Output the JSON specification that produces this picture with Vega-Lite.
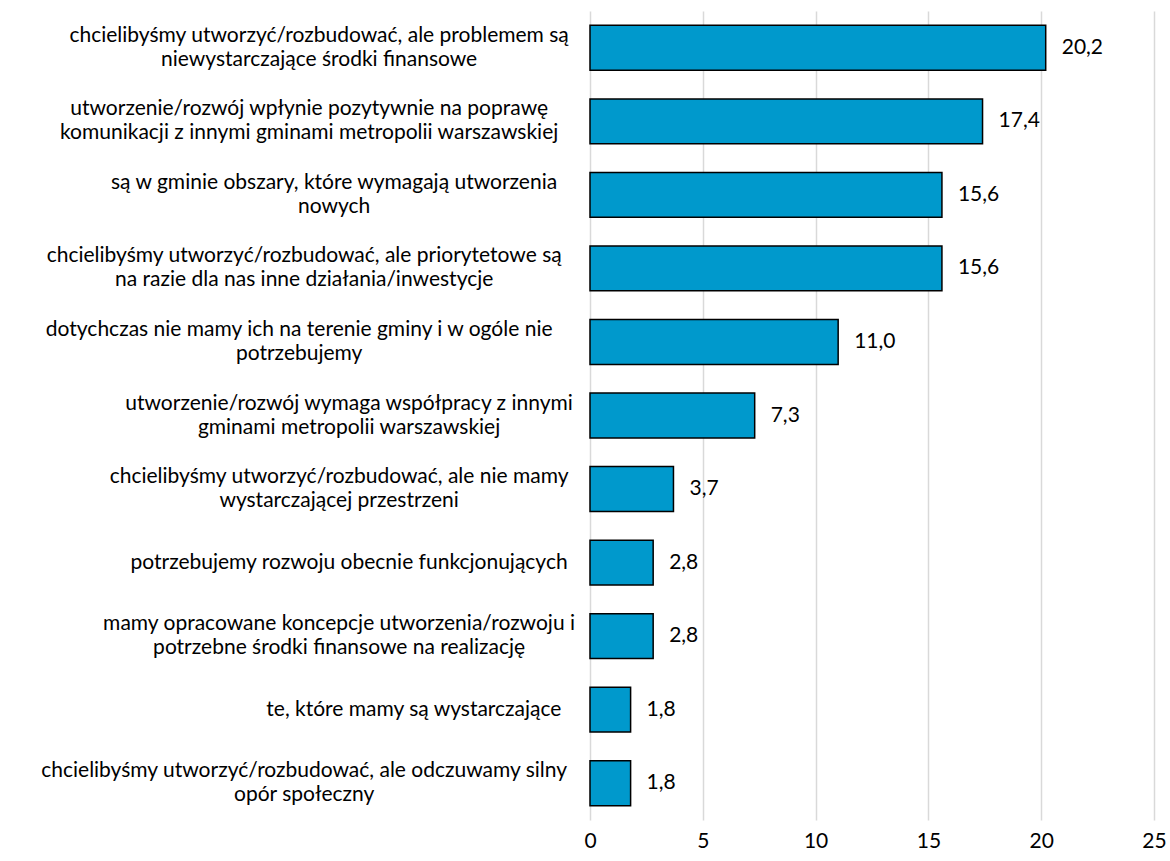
{
  "$schema": "https://vega.github.io/schema/vega-lite/v6.json",
  "autosize": "none",
  "width": 564,
  "height": 809,
  "padding": {"left": 590, "top": 11, "right": 16, "bottom": 41},
  "background": "white",
  "config": {
    "locale": {"number": {"decimal": ",", "thousands": " ", "grouping": [3], "currency": ["", " zł"]}},
    "view": {"stroke": null},
    "font": "Lato"
  },
  "data": {
    "values": [
      {"kategoria": "chcielibyśmy utworzyć/rozbudować, ale problemem są|niewystarczające środki finansowe", "procent": 20.2},
      {"kategoria": "utworzenie/rozwój wpłynie pozytywnie na poprawę|komunikacji z innymi gminami metropolii warszawskiej", "procent": 17.4},
      {"kategoria": "są w gminie obszary,  które wymagają utworzenia|nowych", "procent": 15.6},
      {"kategoria": "chcielibyśmy utworzyć/rozbudować, ale priorytetowe są|na razie dla nas inne działania/inwestycje", "procent": 15.6},
      {"kategoria": "dotychczas nie mamy ich na terenie gminy i w ogóle nie|potrzebujemy", "procent": 11.0},
      {"kategoria": "utworzenie/rozwój wymaga współpracy z innymi|gminami metropolii warszawskiej", "procent": 7.3},
      {"kategoria": "chcielibyśmy utworzyć/rozbudować, ale nie mamy|wystarczającej przestrzeni", "procent": 3.7},
      {"kategoria": "potrzebujemy rozwoju obecnie funkcjonujących", "procent": 2.8},
      {"kategoria": "mamy opracowane koncepcje utworzenia/rozwoju i|potrzebne środki finansowe na realizację", "procent": 2.8},
      {"kategoria": "te, które mamy są wystarczające", "procent": 1.8},
      {"kategoria": "chcielibyśmy utworzyć/rozbudować, ale odczuwamy silny|opór społeczny", "procent": 1.8}
    ]
  },
  "encoding": {
    "y": {
      "field": "kategoria",
      "type": "nominal",
      "sort": null,
      "scale": {"paddingInner": 0.39, "paddingOuter": 0.195},
      "axis": {
        "title": null,
        "domain": false,
        "ticks": false,
        "grid": false,
        "labelExpr": "split(datum.label, '|')",
        "labelAlign": "center",
        "labelPadding": {
          "condition": {"test": "true", "expr": "22 + 0.5 * 0.475 * 21 * max(length(split(datum.value, '|')[0]), length(split(datum.value, '|')[1] || ''))"},
          "value": 22
        },
        "labelOffset": {
          "condition": {"test": "indexof(datum.value, '|') >= 0", "value": -12},
          "value": 0
        },
        "labelFont": "Lato",
        "labelFontSize": 21,
        "labelLineHeight": 24,
        "labelColor": "#000000",
        "labelLimit": 700
      }
    },
    "x": {
      "field": "procent",
      "type": "quantitative",
      "scale": {"domain": [0, 25], "nice": false},
      "axis": {
        "title": null,
        "values": [0, 5, 10, 15, 20, 25],
        "domain": false,
        "ticks": false,
        "grid": true,
        "gridColor": "#d9d9d9",
        "gridWidth": 1.5,
        "labelFont": "Lato",
        "labelFontSize": 21,
        "labelColor": "#000000",
        "labelPadding": 10,
        "labelFlush": false
      }
    }
  },
  "layer": [
    {
      "mark": {"type": "bar", "fill": "#0099CC", "stroke": "#000000", "strokeWidth": 1.5}
    },
    {
      "mark": {"type": "text", "align": "left", "baseline": "middle", "dx": 16, "font": "Lato", "fontSize": 21, "color": "#000000"},
      "encoding": {
        "text": {"field": "procent", "type": "quantitative", "format": ".1f"}
      }
    }
  ]
}
